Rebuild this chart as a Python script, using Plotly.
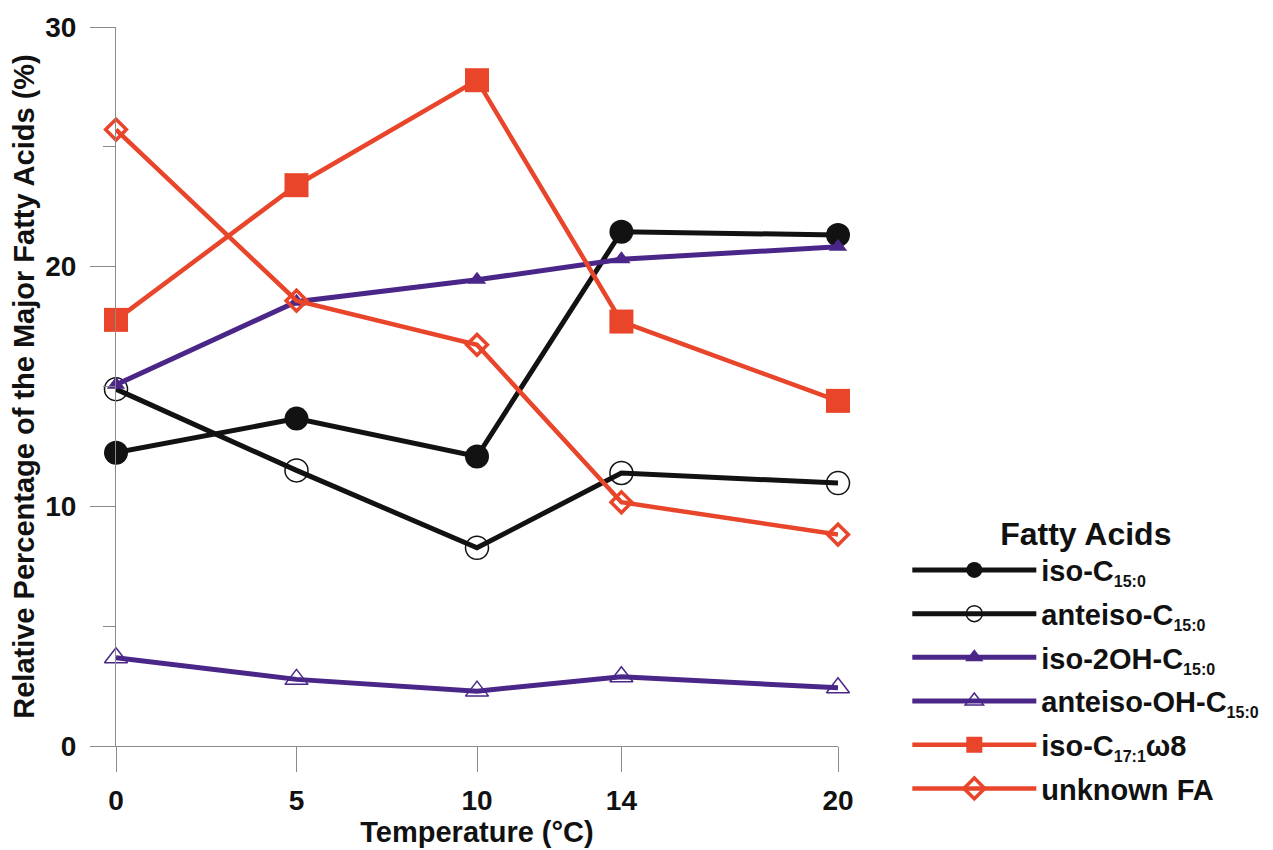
import plotly.graph_objects as go

temperature = [0, 5, 10, 14, 20]
x_tick_labels = ["0", "5", "10", "14", "20"]

iso_c15 = [12.24, 13.66, 12.08, 21.46, 21.32]
anteiso_c15 = [14.89, 11.50, 8.27, 11.39, 10.97]
iso_2oh_c15 = [15.07, 18.54, 19.45, 20.31, 20.83]
anteiso_oh_c15 = [3.68, 2.78, 2.29, 2.89, 2.43]
iso_c17_1w8 = [17.78, 23.40, 27.78, 17.71, 14.40]
unknown_fa = [25.72, 18.58, 16.74, 10.17, 8.82]

SUB = "<sub><span style='font-size:16px'>{}</span></sub>"
names = [
    "iso-C" + SUB.format("15:0"),
    "anteiso-C" + SUB.format("15:0"),
    "iso-2OH-C" + SUB.format("15:0"),
    "anteiso-OH-C" + SUB.format("15:0"),
    "iso-C" + SUB.format("17:1") + "ω8",
    "unknown FA",
]

BLACK = "#121212"
PURPLE = "#4a2688"
RED = "#e8452b"
AXIS = "#8a8a8a"
FONT = "Liberation Sans, Arial, sans-serif"

series = [
    (iso_c15, names[0], BLACK, 5, dict(symbol="circle", size=24, color=BLACK)),
    (anteiso_c15, names[1], BLACK, 5,
     dict(symbol="circle-open", size=23, color=BLACK, line=dict(width=1.5, color=BLACK))),
    (iso_2oh_c15, names[2], PURPLE, 5, dict(symbol="triangle-up", size=16, color=PURPLE)),
    (anteiso_oh_c15, names[3], PURPLE, 5,
     dict(symbol="triangle-up-open", size=20, color=PURPLE, line=dict(width=1.5, color=PURPLE))),
    (iso_c17_1w8, names[4], RED, 4.5, dict(symbol="square", size=24, color=RED)),
    (unknown_fa, names[5], RED, 4.5,
     dict(symbol="diamond-open", size=16, color=RED, line=dict(width=3.5, color=RED))),
]

fig = go.Figure()
for i, (vals, name, col, lw, mk) in enumerate(series):
    fig.add_trace(go.Scatter(
        x=temperature, y=vals, name=name, mode="lines+markers",
        line=dict(color=col, width=lw), marker=mk, cliponaxis=False,
        legendgroup="g%d" % i,
    ))

fig.update_layout(
    width=1265, height=842,
    paper_bgcolor="white", plot_bgcolor="white",
    margin=dict(l=108, r=435, t=19, b=104, autoexpand=False),
    font=dict(family=FONT, color="#111111", size=28, weight="bold"),
    showlegend=True,
    legend=dict(
        x=1.096, y=0.338, xanchor="left", yanchor="top",
        title=dict(text="Fatty Acids", side="top center",
                   font=dict(size=32, family=FONT, weight="bold")),
        font=dict(size=29, family=FONT, weight="bold"),
        itemwidth=124, itemsizing="trace",
        tracegroupgap=3,
        bgcolor="rgba(0,0,0,0)",
    ),
)

fig.update_xaxes(
    range=[0, 20], tickmode="array", tickvals=temperature, ticktext=x_tick_labels,
    showline=True, linecolor=AXIS, linewidth=1,
    ticks="outside", ticklen=25, tickcolor=AXIS, tickwidth=1,
    showgrid=False, zeroline=False, automargin=False,
    tickfont=dict(size=28, family=FONT, weight="bold"),
    ticklabelstandoff=4,
    title=dict(text="Temperature (°C)", font=dict(size=29, family=FONT, weight="bold"), standoff=0),
)
fig.update_yaxes(
    range=[0, 30], tickmode="linear", tick0=0, dtick=10,
    showline=True, linecolor=AXIS, linewidth=1,
    ticks="outside", ticklen=25, tickcolor=AXIS, tickwidth=1,
    minor=dict(ticks="outside", dtick=5, ticklen=12, tickcolor=AXIS, tickwidth=1, showgrid=False),
    showgrid=False, zeroline=False, automargin=False,
    tickfont=dict(size=28, family=FONT, weight="bold"),
    ticklabelstandoff=8,
    title=dict(text="Relative Percentage of the Major Fatty Acids (%)",
               font=dict(size=29, family=FONT, weight="bold"), standoff=4),
)

fig.write_html("out.html")
